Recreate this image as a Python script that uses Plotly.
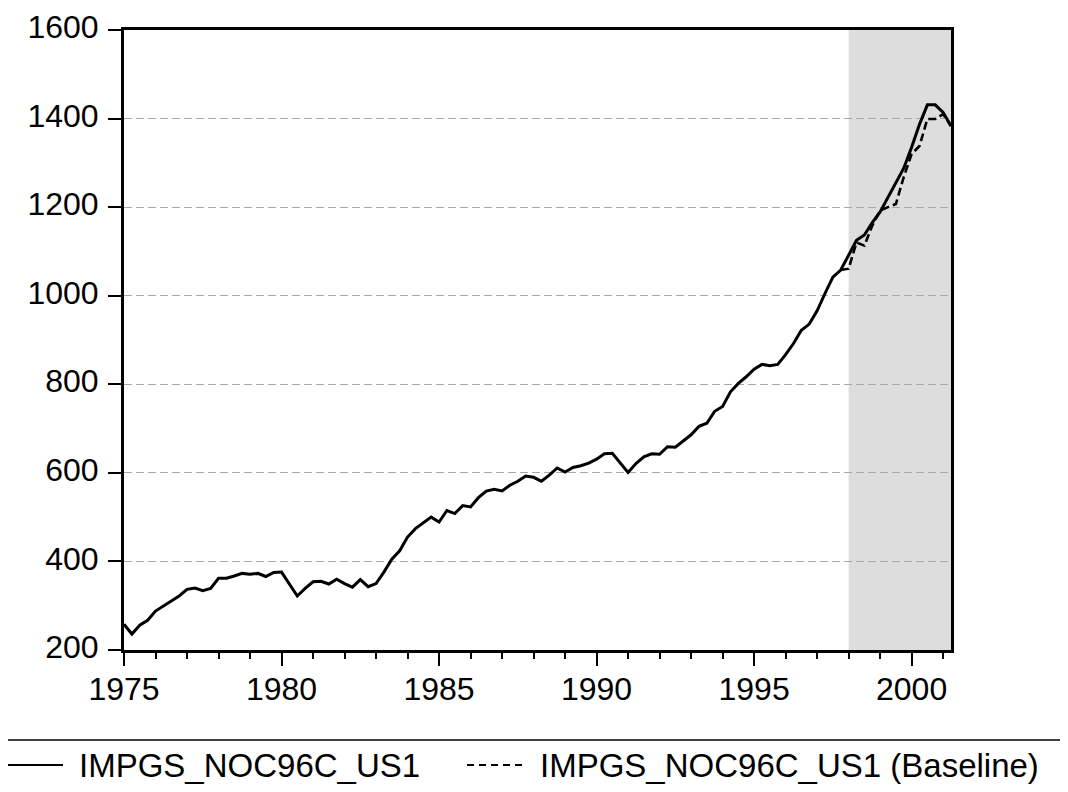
import plotly.graph_objects as go

# Quarterly observations, 1975Q1 .. 2001Q2
start_year = 1975
actual = [
    258, 236, 256, 267, 288, 299, 311, 322, 337, 340,
    334, 339, 362, 362, 367, 373, 371, 373, 366, 375,
    376, 349, 322, 339, 354, 355, 349, 360, 350, 342,
    359, 343, 350, 376, 405, 424, 455, 474, 486, 500,
    489, 515, 508, 526, 523, 544, 559, 563, 559, 572,
    581, 593, 590, 581, 595, 611, 602, 612, 616, 622,
    631, 643, 644, 622, 601, 621, 636, 643, 642, 659,
    658, 672, 686, 705, 712, 739, 750, 783, 802, 817,
    834, 845, 842, 845, 867, 892, 922, 936, 966, 1005,
    1042, 1058, 1092, 1125, 1137, 1165, 1189, 1222, 1256, 1288,
    1335, 1387, 1431, 1431, 1414, 1383,
]
# Baseline scenario, 1997Q4 .. 2001Q2
baseline_start = 1997.75
baseline = [1058, 1061, 1120, 1113, 1158, 1192, 1200, 1207, 1268, 1320,
            1338, 1399, 1399, 1410, 1383]

shade_period = [1998.0, 2001.25]
y_ticks = [200, 400, 600, 800, 1000, 1200, 1400, 1600]
x_ticks = [1975, 1980, 1985, 1990, 1995, 2000]
series_name = "IMPGS_NOC96C_US1"
legend_labels = [series_name, series_name + " (Baseline)"]

x_actual = [start_year + q / 4 for q in range(len(actual))]
x_base = [baseline_start + q / 4 for q in range(len(baseline))]

FONT = "Liberation Sans, Arial, sans-serif"

# page body adds an 8px margin; lay the figure out to compensate
OFF = 8
W_PLOT, H_PLOT = 827.0, 620.0
L, T = 124 - OFF, 30 - OFF
FIG_W, FIG_H = 1068 - OFF, 792 - OFF

def px_x(px):
    return (px - OFF - L) / W_PLOT

def px_y(py):
    return (T + H_PLOT - (py - OFF)) / H_PLOT

fig = go.Figure()
fig.add_trace(go.Scatter(
    x=x_actual, y=actual, mode="lines", name=legend_labels[0],
    line=dict(color="black", width=3),
))
fig.add_trace(go.Scatter(
    x=x_base, y=baseline, mode="lines", name=legend_labels[1],
    line=dict(color="black", width=2.6, dash="8px,4px"),
))

fig.add_vrect(x0=shade_period[0], x1=shade_period[1], fillcolor="#dddddd",
              line_width=0, layer="below")

# ---- legend drawn below the chart ----
leg_y = px_y(765)
fig.add_shape(type="line", xref="paper", yref="paper",
              x0=px_x(4), x1=px_x(1068), y0=px_y(740), y1=px_y(740),
              line=dict(color="black", width=1.5))
fig.add_shape(type="line", xref="paper", yref="paper",
              x0=px_x(5), x1=px_x(63), y0=leg_y, y1=leg_y,
              line=dict(color="black", width=2))
fig.add_shape(type="line", xref="paper", yref="paper",
              x0=px_x(467), x1=px_x(526), y0=leg_y, y1=leg_y,
              line=dict(color="black", width=2, dash="7px,5px"))
fig.add_annotation(xref="paper", yref="paper", x=px_x(77), y=leg_y,
                   xanchor="left", yanchor="middle", showarrow=False,
                   text=legend_labels[0], font=dict(size=33, family=FONT, color="black"))
fig.add_annotation(xref="paper", yref="paper", x=px_x(538), y=leg_y,
                   xanchor="left", yanchor="middle", showarrow=False,
                   text=legend_labels[1], font=dict(size=33, family=FONT, color="black"))

fig.update_layout(
    width=FIG_W, height=FIG_H,
    margin=dict(l=L, r=FIG_W - L - W_PLOT, t=T, b=FIG_H - T - H_PLOT, autoexpand=False),
    paper_bgcolor="white", plot_bgcolor="white",
    font=dict(family=FONT, color="black", size=32),
    showlegend=False,
)

fig.update_xaxes(
    range=[start_year, shade_period[1]], tickvals=x_ticks,
    ticks="outside", ticklen=13, tickwidth=2, tickcolor="black",
    minor=dict(dtick=1, tick0=1975, ticks="outside", ticklen=6, tickwidth=2,
               tickcolor="black", showgrid=False),
    showline=True, linecolor="black", linewidth=3, mirror=True,
    showgrid=False, zeroline=False, ticklabelstandoff=-4, automargin=False,
    tickfont=dict(size=32, family=FONT, color="black"),
)
fig.update_yaxes(
    range=[200, 1600], tickvals=y_ticks,
    ticks="outside", ticklen=13, tickwidth=2, tickcolor="black",
    showline=True, linecolor="black", linewidth=3, mirror=True,
    showgrid=True, gridcolor="#a8a8a8", gridwidth=1, griddash="8px,4px",
    zeroline=False, ticklabelstandoff=3, ticklabelshift=-3,
    ticklabeloverflow="allow", automargin=False,
    tickfont=dict(size=32, family=FONT, color="black"),
)

fig.write_html("out.html")
